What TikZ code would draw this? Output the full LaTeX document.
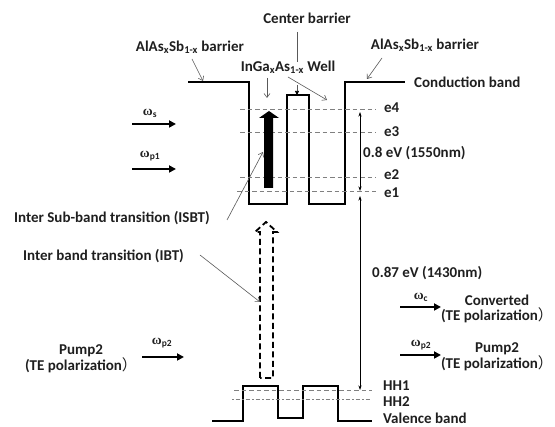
\documentclass[tikz,border=0pt]{standalone}
\usepackage{fontspec}
\setmainfont{Carlito}[BoldFont={Carlito Bold}]
\newfontfamily\cjk{Noto Sans CJK SC}
\newfontfamily\grk{Liberation Serif}
\usetikzlibrary{arrows.meta}
\tikzset{
  band/.style={line width=2pt, line join=miter},
  lvl/.style={gray, line width=0.8pt, dash pattern=on 4.5pt off 3pt},
  ptr/.style={draw=black!65, line width=0.6pt, -{Straight Barb[length=4pt,width=6pt]}},
  ptrf/.style={draw=black!65, line width=0.6pt, -{Triangle[length=4pt,width=4pt,black]}},
  beam/.style={line width=1.8pt, -{Triangle[length=7pt,width=7pt]}},
  dim/.style={line width=0.6pt, {Stealth[length=4.5pt,width=3pt]}-{Stealth[length=4.5pt,width=3pt]}},
  lab/.style={font=\bfseries\fontsize{15}{15.5}\selectfont, inner sep=0pt, text=black!88},
  sml/.style={font=\bfseries\fontsize{13.5}{15}\selectfont, inner sep=0pt, text=black!88},
}
\newcommand{\fwp}{{\cjk\mdseries ）}}
\newcommand{\om}{{\grk\bfseries ω}}
\begin{document}
\begin{tikzpicture}[x=1pt,y=-1pt]
\useasboundingbox (0,0) rectangle (555,427);
% conduction band
\draw[band] (188,82) -- (249,82) -- (249,204) -- (287,204) -- (287,95) -- (309,95) -- (309,204) -- (345,204) -- (345,82) -- (405,82);
% valence band
\draw[band] (212,421) -- (243,421) -- (243,386) -- (278,386) -- (278,418) -- (303,418) -- (303,386) -- (338,386) -- (338,421) -- (372,421);
% levels
\draw[lvl] (240,109) -- (376,109);
\draw[lvl] (240,132) -- (376,132);
\draw[lvl] (240,177) -- (376,177);
\draw[lvl] (237,191) -- (376,191);
\draw[lvl] (234,390) -- (372,390);
\draw[gray, line width=0.8pt, dash pattern=on 1.5pt off 2pt on 4.5pt off 2pt] (232,399) -- (372,399);
% level labels
\node[lab, anchor=west] (e4) at (384,108) {e4};
\node[lab, anchor=west] (e3) at (384,132) {e3};
\node[lab, anchor=west] (e2) at (384,175) {e2};
\node[lab, anchor=west] (e1) at (384,193) {e1};
\node[lab, anchor=west] (hh1) at (383,386) {HH1};
\node[lab, anchor=west] (hh2) at (383,402) {HH2};
\node[lab, anchor=west] (vb) at (383,418) {Valence band};
\node[lab, anchor=west] (cb) at (414,82) {Conduction band};
% energy arrows
\coordinate (d1a) at (360,112);
\coordinate (d1b) at (360,191);
\coordinate (d2a) at (360,196);
\coordinate (d2b) at (360,390);
\draw[dim] (d1a) -- (d1b);
\draw[dim] (d2a) -- (d2b);
\node[lab, anchor=west] (ev1) at (363,153) {0.8 eV (1550nm)};
\node[lab, anchor=west] (ev2) at (372,273) {0.87 eV (1430nm)};
% ISBT thick arrow
\fill (264,188) -- (264,118) -- (259,118) -- (269,111) -- (279,118) -- (273,118) -- (273,188) -- cycle;
\coordinate (isbtarrow) at (263,152);
% IBT dashed arrow
\draw[line width=1.8pt, dash pattern=on 6pt off 3.5pt] (260,378) -- (260,232) -- (255,232) -- (266,222) -- (277,232) -- (273,232) -- (273,378) -- cycle;
\coordinate (ibtarrow) at (260,302);
% top labels
\node[lab] (cbar) at (307,18) {Center barrier};
\node[lab] (well) at (288,67) {InGa\textsubscript{x}As\textsubscript{1-x} Well};
\node[lab] (albl) at (190,47) {AlAs\textsubscript{x}Sb\textsubscript{1-x} barrier};
\node[lab] (arbl) at (425,45) {AlAs\textsubscript{x}Sb\textsubscript{1-x} barrier};
\coordinate (c1) at (297,32);
\coordinate (c2) at (297,62);
\coordinate (c3) at (297,85);
\coordinate (c4) at (297,95);
\draw[draw=black!65, line width=0.6pt] (c1) -- (c2);
\draw[ptrf] (c3) -- (c4);
\coordinate (w1) at (267,78);
\coordinate (w2) at (267,98);
\coordinate (w3) at (288,77);
\coordinate (w4) at (327,100);
\draw[ptr] (w1) -- (w2);
\draw[ptr] (w3) -- (w4);
\coordinate (al1) at (192,59);
\coordinate (al2) at (203,81);
\draw[ptr] (al1) -- (al2);
\coordinate (ar1) at (382,58);
\coordinate (ar2) at (367,79);
\draw[ptr] (ar1) -- (ar2);
% transitions labels
\node[lab, anchor=west] (isbt) at (14,218) {Inter Sub-band transition (ISBT)};
\node[lab, anchor=west] (ibt) at (23,256) {Inter band transition (IBT)};
\draw[ptr] (227,220) -- (isbtarrow);
\draw[ptr] (200,255) -- (ibtarrow);
% input beams
\coordinate (s1) at (132,124); \coordinate (s2) at (176,124);
\draw[beam] (s1) -- (s2);
\node[sml] (ws) at (150,113) {\om\textsubscript{s}};
\coordinate (p1) at (132,169); \coordinate (p2) at (176,169);
\draw[beam] (p1) -- (p2);
\node[sml] (wp1) at (150,156) {\om\textsubscript{p1}};
\node[lab, align=center] (pumpin) at (81,359) {Pump2\\(TE polarization\fwp};
\coordinate (q1) at (142,357); \coordinate (q2) at (184,357);
\draw[beam] (q1) -- (q2);
\node[sml] (wp2in) at (162,343) {\om\textsubscript{p2}};
% output beams
\coordinate (o1) at (400,307); \coordinate (o2) at (441,307);
\draw[beam] (o1) -- (o2);
\node[sml] (wc) at (421,297) {\om\textsubscript{c}};
\node[lab, align=center] (conv) at (497,309) {Converted\\(TE polarization\fwp};
\coordinate (o3) at (400,355); \coordinate (o4) at (441,355);
\draw[beam] (o3) -- (o4);
\node[sml] (wp2out) at (421,345) {\om\textsubscript{p2}};
\node[lab, align=center] (pumpout) at (497,357) {Pump2\\(TE polarization\fwp};
\end{tikzpicture}
\end{document}
